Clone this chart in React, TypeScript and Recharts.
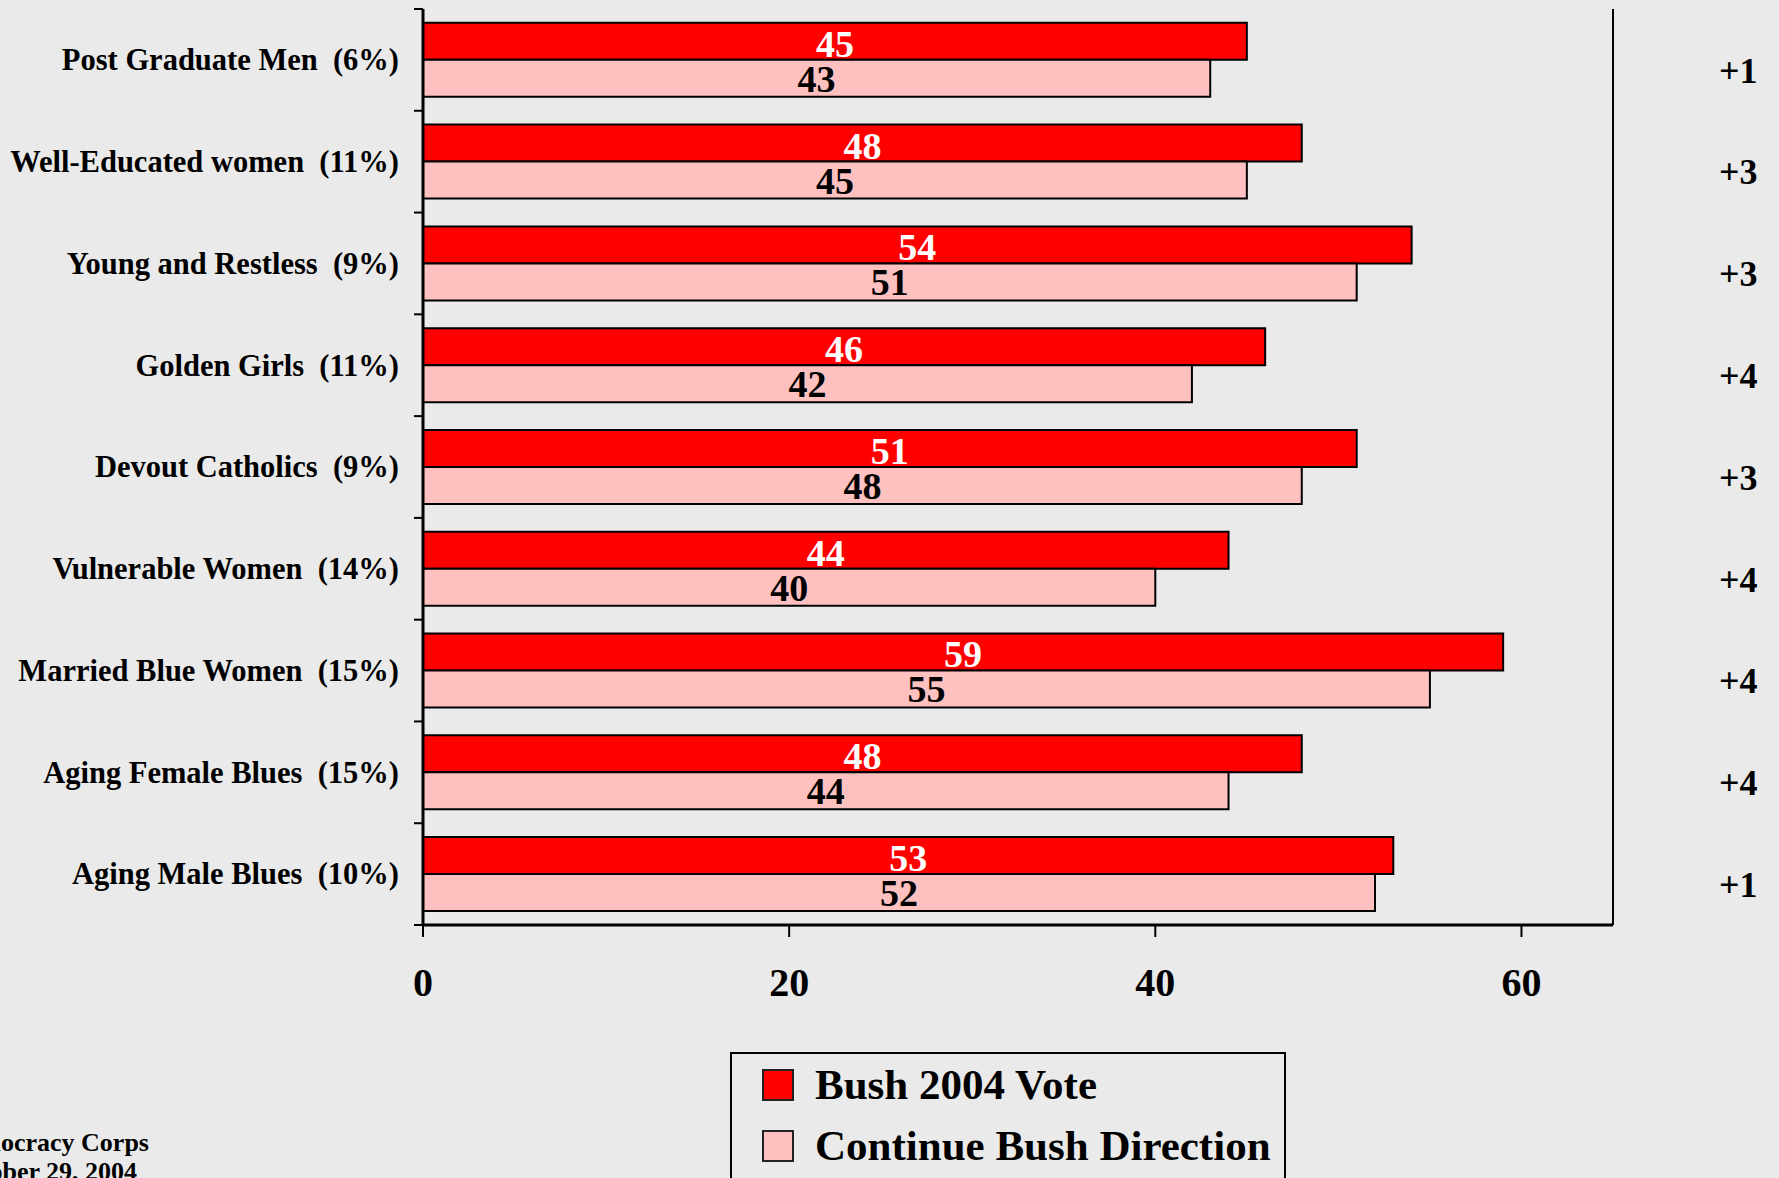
import React from "react";
import {
  BarChart,
  Bar,
  XAxis,
  YAxis,
  LabelList,
  Legend,
} from "recharts";

// Segments of the electorate, with their share of voters.
const categories = [
  "Post Graduate Men  (6%)",
  "Well-Educated women  (11%)",
  "Young and Restless  (9%)",
  "Golden Girls  (11%)",
  "Devout Catholics  (9%)",
  "Vulnerable Women  (14%)",
  "Married Blue Women  (15%)",
  "Aging Female Blues  (15%)",
  "Aging Male Blues  (10%)",
];
const bushVote = [45, 48, 54, 46, 51, 44, 59, 48, 53];
const continueDirection = [43, 45, 51, 42, 48, 40, 55, 44, 52];
const shiftLabels = ["+1", "+3", "+3", "+4", "+3", "+4", "+4", "+4", "+1"];
const xTicks = [0, 20, 40, 60];
const xMax = 65;

const data = categories.map((name, i) => ({
  name,
  bush: bushVote[i],
  cont: continueDirection[i],
}));

const FONT = "'Liberation Serif', 'Times New Roman', serif";
const BG = "#EAEAEA";
const RED = "#FF0000";
const PINK = "#FFC0C0";

// Category label sits at the band centre, while the little tick marks sit on
// the band boundaries (Excel style).
function CategoryTick(props: any) {
  const { x, y, payload, index, visibleTicksCount } = props;
  const half = payload && payload.offset ? payload.offset : 50.9;
  const axisX = x + 24;
  return (
    <g>
      <line x1={axisX - 9} x2={axisX} y1={y - half} y2={y - half} stroke="#000" strokeWidth={2} />
      {index === visibleTicksCount - 1 && (
        <line x1={axisX - 9} x2={axisX} y1={y + half} y2={y + half} stroke="#000" strokeWidth={2} />
      )}
      <text
        x={x}
        y={y}
        dy="0.34em"
        textAnchor="end"
        fontFamily={FONT}
        fontWeight="bold"
        fontSize={30.5}
        fill="#000"
        style={{ whiteSpace: "pre" }}
      >
        {payload.value}
      </text>
    </g>
  );
}

function LegendBox({ payload }: any) {
  return (
    <div
      style={{
        width: 556,
        height: 160,
        border: "2px solid #000",
        background: BG,
        boxSizing: "border-box",
        paddingTop: 0,
        paddingLeft: 30,
        fontFamily: FONT,
        fontWeight: "bold",
        fontSize: 43,
        color: "#000",
      }}
    >
      {(payload || []).map((p: any) => (
        <div key={p.value} style={{ display: "flex", alignItems: "center", height: 61 }}>
          <span
            style={{
              display: "inline-block",
              width: 32,
              height: 32,
              boxSizing: "border-box",
              border: "2px solid #222",
              background: p.color,
              marginRight: 21,
            }}
          />
          <span style={{ lineHeight: 1 }}>{p.value}</span>
        </div>
      ))}
    </div>
  );
}

export default function App() {
  return (
    <div
      style={{
        position: "absolute",
        left: 0,
        top: 0,
        width: 1779,
        height: 1178,
        overflow: "hidden",
        background: BG,
      }}
    >
      <BarChart
        width={1779}
        height={1178}
        data={data}
        layout="vertical"
        margin={{ top: 9, right: 0, bottom: 193, left: 23 }}
        barCategoryGap="13.6%"
        barGap={0}
      >
        <XAxis
          type="number"
          domain={[0, xMax]}
          ticks={xTicks}
          allowDataOverflow
          height={60}
          tickSize={12}
          tickMargin={31}
          axisLine={{ stroke: "#000", strokeWidth: 3 }}
          tickLine={{ stroke: "#000", strokeWidth: 2 }}
          tick={{ fontSize: 40, fontWeight: "bold", fontFamily: FONT, fill: "#000" }}
        />
        <XAxis
          xAxisId="top"
          orientation="top"
          type="number"
          domain={[0, xMax]}
          height={0}
          tick={false}
          tickLine={false}
          axisLine={{ stroke: "#000", strokeWidth: 2 }}
        />
        <YAxis
          type="category"
          dataKey="name"
          width={400}
          tickSize={9}
          tickMargin={15}
          tickLine={false}
          axisLine={{ stroke: "#000", strokeWidth: 3 }}
          tick={<CategoryTick />}
          interval={0}
        />
        <YAxis
          yAxisId="right"
          orientation="right"
          type="category"
          dataKey="name"
          width={166}
          tickSize={6}
          tickMargin={100}
          tickLine={false}
          axisLine={{ stroke: "#000", strokeWidth: 2 }}
          interval={0}
          tickFormatter={(_v: any, i: number) => shiftLabels[i]}
          tick={{ fontSize: 36, fontWeight: "bold", fontFamily: FONT, fill: "#000", dy: 10 }}
        />
        <Legend
          layout="vertical"
          align="center"
          verticalAlign="middle"
          wrapperStyle={{ left: 730, top: 1052, width: 556 }}
          content={<LegendBox />}
        />
        <Bar
          dataKey="bush"
          name="Bush 2004 Vote"
          fill={RED}
          stroke="#000"
          strokeWidth={2}
          isAnimationActive={false}
        >
          <LabelList
            dataKey="bush"
            position="center"
            fill="#FFFFFF"
            fontSize={38}
            fontWeight="bold"
            fontFamily={FONT}
            dy={2}
          />
        </Bar>
        <Bar
          dataKey="cont"
          name="Continue Bush Direction"
          fill={PINK}
          stroke="#000"
          strokeWidth={2}
          isAnimationActive={false}
        >
          <LabelList
            dataKey="cont"
            position="center"
            fill="#000000"
            fontSize={38}
            fontWeight="bold"
            fontFamily={FONT}
          />
        </Bar>
      </BarChart>
      <div
        style={{
          position: "absolute",
          left: -51,
          top: 1128,
          fontFamily: FONT,
          fontWeight: "bold",
          fontSize: 26,
          lineHeight: "29px",
          color: "#000",
          whiteSpace: "nowrap",
        }}
      >
        <div>Democracy Corps</div>
        <div>October 29, 2004</div>
      </div>
    </div>
  );
}
